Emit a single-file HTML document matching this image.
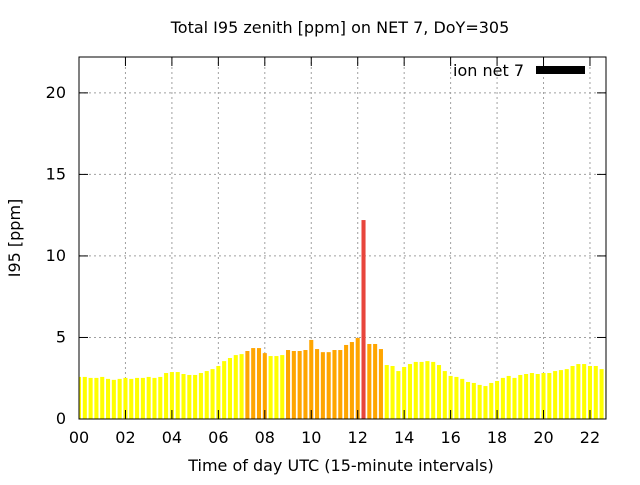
<!DOCTYPE html>
<html><head><meta charset="utf-8"><style>
body{margin:0;background:#fff}
svg text{font-family:"DejaVu Sans","Liberation Sans",sans-serif;font-size:16px;fill:#000}
</style></head><body>
<svg id="chart" width="640" height="480">
<defs><clipPath id="pc"><rect x="79" y="57" width="527" height="362"/></clipPath></defs>
<text x="340" y="33" text-anchor="middle">Total I95 zenith [ppm] on NET 7, DoY=305</text>
<text x="341" y="471" text-anchor="middle">Time of day UTC (15-minute intervals)</text>
<text transform="translate(20,238) rotate(-90)" text-anchor="middle">I95 [ppm]</text>
<g id="grid"></g><g id="bars" clip-path="url(#pc)"></g><g id="axes"></g>
<rect x="79" y="57" width="527" height="362" fill="none" stroke="#000" stroke-width="1"/>
<text x="524" y="76" text-anchor="end">ion net 7</text>
<rect x="536" y="66" width="49" height="8" fill="#000"/>
</svg>
<script>
const values=[2.58,2.58,2.52,2.52,2.58,2.46,2.4,2.46,2.52,2.46,2.52,2.52,2.58,2.52,2.58,2.82,2.88,2.88,2.76,2.7,2.7,2.82,2.94,3.06,3.25,3.55,3.74,3.92,3.98,4.17,4.35,4.35,4.04,3.86,3.86,3.92,4.23,4.17,4.17,4.23,4.85,4.29,4.1,4.1,4.23,4.23,4.54,4.72,4.97,12.2,4.6,4.6,4.29,3.31,3.25,2.94,3.19,3.37,3.5,3.5,3.55,3.5,3.31,2.94,2.64,2.58,2.46,2.27,2.21,2.09,2.02,2.21,2.33,2.52,2.64,2.52,2.7,2.76,2.82,2.76,2.82,2.82,2.94,3.0,3.06,3.25,3.37,3.37,3.25,3.25,3.06,3.0];
const yTicks=[0,5,10,15,20];
const xTicks=[0,2,4,6,8,10,12,14,16,18,20,22];
const xTickLabels=["00","02","04","06","08","10","12","14","16","18","20","22"];
const X0=79,X1=606,Y0=419,Y1=57,XMAX=22.69,YMAX=22.2;
function xs(h){return X0+h/XMAX*(X1-X0);}
function ys(v){return Y0-v/YMAX*(Y0-Y1);}
const NS="http://www.w3.org/2000/svg";
function mk(t,a,p){const e=document.createElementNS(NS,t);for(const k in a)e.setAttribute(k,a[k]);p.appendChild(e);return e;}
const grid=document.getElementById('grid'),bars=document.getElementById('bars'),axes=document.getElementById('axes');
yTicks.forEach(v=>{const y=ys(v);
 if(v>0){const g=mk('line',{x1:X0,x2:X1,y1:y,y2:y,stroke:'#a0a0a0','stroke-dasharray':'2,3'},grid);
 
 }
 const t=mk('line',{x1:X0,x2:X0+9,y1:y,y2:y,stroke:'#000'},axes);
 
 
 const t2=mk('line',{x1:X1-9,x2:X1,y1:y,y2:y,stroke:'#000'},axes);
 
 
 const l=mk('text',{x:66,y:y+5,'text-anchor':'end'},axes);l.textContent=v;
 
 });
xTicks.forEach((h,i)=>{const x=xs(h);
 if(h>0){const g=mk('line',{x1:x,x2:x,y1:Y1,y2:Y0,stroke:'#a0a0a0','stroke-dasharray':'2,3'},grid);
 
 }
 const t=mk('line',{x1:x,x2:x,y1:Y0,y2:Y0-9,stroke:'#000'},axes);
 
 
 const t2=mk('line',{x1:x,x2:x,y1:Y1,y2:Y1+9,stroke:'#000'},axes);
 
 
 const l=mk('text',{x:x,y:443,'text-anchor':'middle'},axes);l.textContent=xTickLabels[i];
 
 });
values.forEach((v,i)=>{const c=xs(i*0.25),w=(xs(0.25)-xs(0))*0.7;
 const col=v>=10?'#e8453c':(v>=4?'#ffa500':'#ffff00');
 const r=mk('rect',{x:c-w/2,y:ys(v),width:w,height:Y0-ys(v),fill:col},bars);
 
 });
</script>
</body></html>
